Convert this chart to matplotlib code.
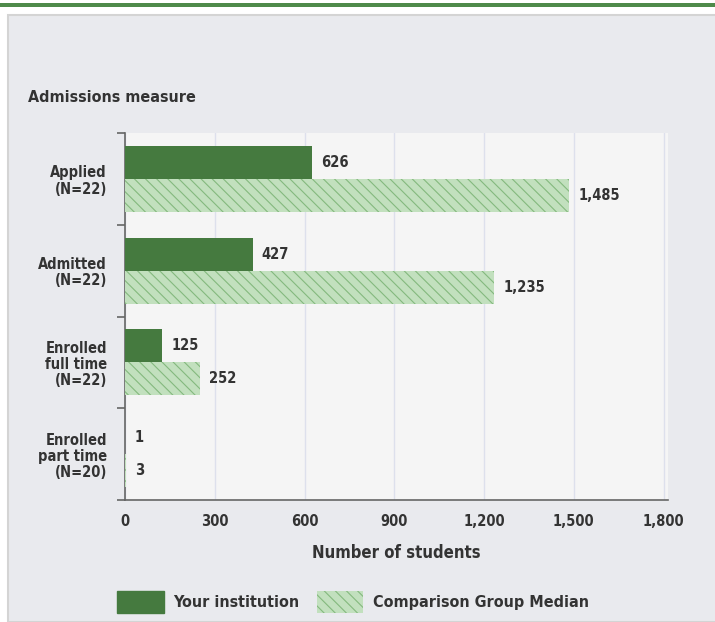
import matplotlib.pyplot as plt
from matplotlib.patches import Rectangle, Patch
import numpy as np

categories = ["Applied\n(N=22)", "Admitted\n(N=22)", "Enrolled\nfull time\n(N=22)", "Enrolled\npart time\n(N=20)"]
institution = [626, 427, 125, 1]
comparison = [1485, 1235, 252, 3]
xticks = [0, 300, 600, 900, 1200, 1500, 1800]

dark_green = "#457A3F"
light_green = "#C2E0BE"
hatch_green = "#84B97E"
text_col = "#333333"

plt.rcParams['font.family'] = ['DejaVu Sans']
plt.rcParams['font.stretch'] = 'condensed'
plt.rcParams['hatch.linewidth'] = 0.8

W, H = 715, 622
fig = plt.figure(figsize=(W / 100, H / 100), dpi=100)
fig.patch.set_facecolor("white")

# top green strip and grey panel
fig.patches.append(Rectangle((0, 1 - 7 / H), 1, 4 / H, transform=fig.transFigure,
                             facecolor="#4F8A4A", edgecolor="none", zorder=-2))
fig.patches.append(Rectangle((8 / W, 0), 1, 1 - 15 / H, transform=fig.transFigure,
                             facecolor="#E9EAEE", edgecolor="#D4D4D4", linewidth=1.5, zorder=-2))

ax = fig.add_axes([125 / W, 1 - 500 / H, (668 - 125) / W, (500 - 133) / H])
ax.set_facecolor("#F5F5F5")

n = len(categories)
y = np.arange(n)
h = 0.36
ax.barh(y - h / 2, institution, height=h, color=dark_green, zorder=3)
ax.barh(y + h / 2, comparison, height=h, facecolor=light_green, hatch="\\\\\\",
        edgecolor=hatch_green, linewidth=0, zorder=3)

for i in range(n):
    ax.text(institution[i] + 30, y[i] - h / 2, f"{institution[i]:,}", va="center", ha="left",
            fontsize=10.5, fontweight="bold", color=text_col, zorder=4)
    ax.text(comparison[i] + 30, y[i] + h / 2, f"{comparison[i]:,}", va="center", ha="left",
            fontsize=10.5, fontweight="bold", color=text_col, zorder=4)

ax.set_xlim(0, 1815)
ax.set_ylim(n - 0.5, -0.5)
ax.set_xticks(xticks)
ax.set_xticklabels([f"{v:,}" for v in xticks], fontsize=10.5, fontweight="bold", color=text_col)
ax.tick_params(axis="x", length=0, pad=10)

ax.set_yticks(np.arange(n + 1) - 0.5)
ax.set_yticklabels([])
ax.tick_params(axis="y", which="major", length=6, color="#666666", width=1.2)
ax.set_yticks(y, minor=True)
ax.set_yticklabels(categories, minor=True, fontsize=10.5, fontweight="bold", color=text_col,
                   linespacing=1.1)
ax.tick_params(axis="y", which="minor", length=0, pad=13)

ax.grid(axis="x", color="#DDE0EC", linewidth=1, zorder=0)
ax.set_axisbelow(True)
for s in ["top", "right"]:
    ax.spines[s].set_visible(False)
for s in ["left", "bottom"]:
    ax.spines[s].set_color("#666666")
    ax.spines[s].set_linewidth(1.2)

ax.set_xlabel("Number of students", fontsize=12, fontweight="bold", color=text_col, labelpad=11)

fig.text(28 / W, 1 - 97 / H, "Admissions measure", fontsize=11.5, fontweight="bold",
         color=text_col, va="center")

handles = [Patch(facecolor=dark_green, edgecolor=dark_green),
           Patch(facecolor=light_green, edgecolor=hatch_green, linewidth=0, hatch="\\\\\\")]
fig.legend(handles, ["Your institution", "Comparison Group Median"], loc="center",
           bbox_to_anchor=(353 / W, 1 - 602 / H), ncol=2, frameon=False,
           handlelength=2.9, handleheight=1.75, columnspacing=1.1, handletextpad=0.6,
           prop={"weight": "bold", "size": 11.5}, labelcolor=text_col)

fig.savefig("out.png", dpi=100, facecolor=fig.get_facecolor())
